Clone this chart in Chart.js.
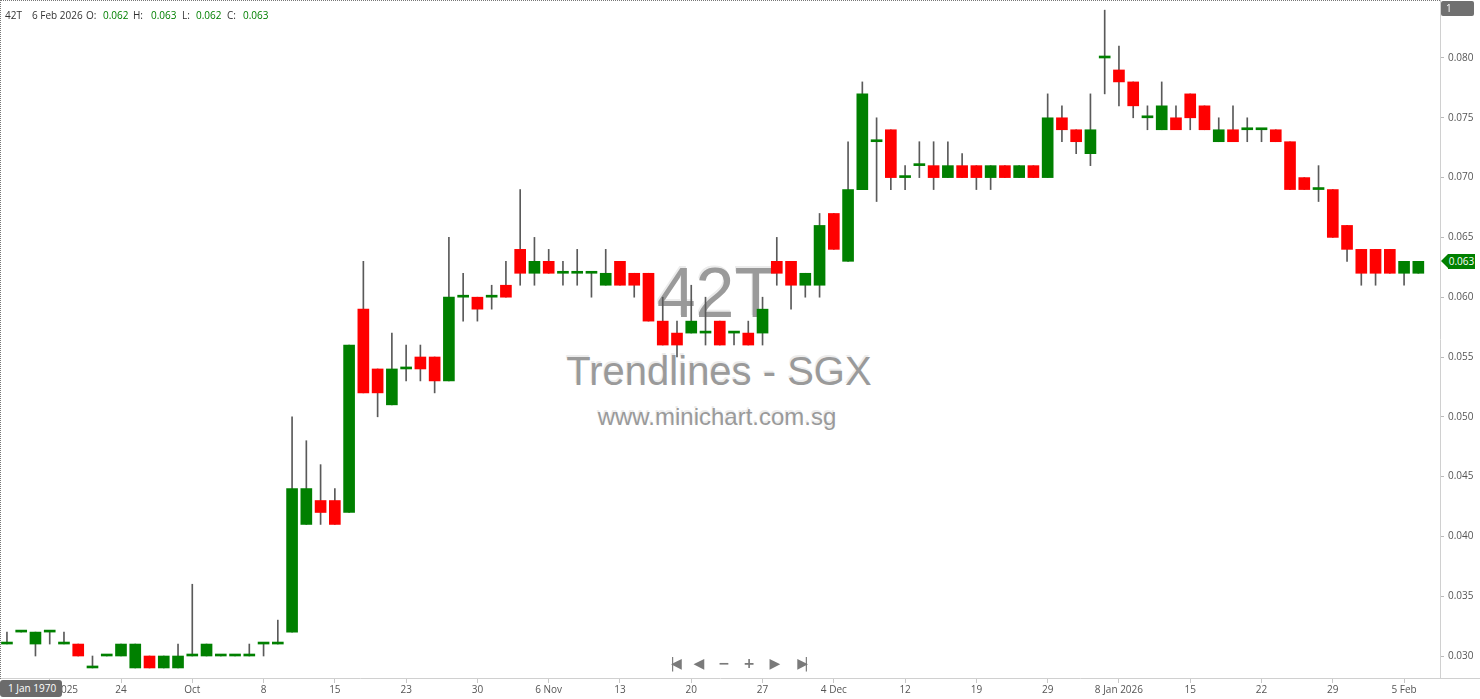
<!DOCTYPE html>
<html><head><meta charset="utf-8">
<script src="https://cdn.jsdelivr.net/npm/chart.js@4.4.1/dist/chart.umd.min.js"></script>
<style>
html,body{margin:0;padding:0;background:#fff;overflow:hidden}
#wrap{position:relative;width:1480px;height:699px;font-family:"Open Sans",sans-serif;font-size:10px;color:#333}
#c{position:absolute;left:0;top:0;z-index:1}
.wm{position:absolute;left:0;width:1434px;text-align:center;color:#9a9a9a;font-family:"Liberation Sans",Arial,sans-serif;white-space:nowrap;z-index:0;text-shadow:-1px -2px 0 #ececec}
.hd{position:absolute;top:9px;line-height:12px;white-space:nowrap;z-index:2}
.g{color:#008000}
.nav{position:absolute;top:654px;width:20px;margin-left:-10px;text-align:center;color:#7a7a7a;font-family:"DejaVu Sans",sans-serif;font-size:14px;line-height:18px;z-index:2;white-space:nowrap}
#frame{position:absolute;left:0;top:0;width:1440px;height:679px;border-top:1px dotted #777;border-left:1px dotted #777;box-sizing:border-box;z-index:2;pointer-events:none}
#datebox{position:absolute;left:0;top:680px;width:62px;height:17px;background:#6b6b6b;border-radius:3px;color:#fff;line-height:17px;padding-left:8px;box-sizing:border-box;z-index:3;white-space:nowrap}
#onebox{position:absolute;left:1441px;top:1px;width:33px;height:15px;background:#707070;border-radius:2px;color:#fff;line-height:15px;padding-left:5px;box-sizing:border-box;z-index:3}
#badge{position:absolute;left:1448px;width:27px;height:15px;background:#008000;color:#fff;line-height:15px;text-align:center;z-index:3}
#arrow{position:absolute;left:1441px;width:0;height:0;border-top:7.5px solid transparent;border-bottom:7.5px solid transparent;border-right:7px solid #008000;z-index:3}
</style>
</head><body>
<div id="wrap">
  <div class="wm" style="top:258px;font-size:70px;line-height:70px;">42T</div>
  <div class="wm" style="top:351px;font-size:40px;line-height:40px;left:2px;">Trendlines - SGX</div>
  <div class="wm" style="top:405px;font-size:24px;line-height:24px;">www.minichart.com.sg</div>
  <canvas id="c" width="1480" height="699"></canvas>
  <div id="frame"></div>
  <div class="hd" id="h_sym" style="left:5px"></div>
  <div class="hd" id="h_date" style="left:32px"></div>
  <div class="hd" style="left:86px">O:</div><div class="hd g" id="h_o" style="left:103px"></div>
  <div class="hd" style="left:133px">H:</div><div class="hd g" id="h_h" style="left:151px"></div>
  <div class="hd" style="left:182px">L:</div><div class="hd g" id="h_l" style="left:196px"></div>
  <div class="hd" style="left:227px">C:</div><div class="hd g" id="h_c" style="left:243px"></div>
  <div class="nav" style="left:674px;letter-spacing:-4px">|◀</div>
  <div class="nav" style="left:699px">◀</div>
  <div class="nav" style="left:724px;font-weight:bold">−</div>
  <div class="nav" style="left:749px;font-weight:bold">+</div>
  <div class="nav" style="left:775px">▶</div>
  <div class="nav" style="left:801px;letter-spacing:-4px">▶|</div>
  <div id="datebox">1 Jan 1970</div>
  <div id="onebox">1</div>
  <div id="arrow"></div><div id="badge"></div>
</div>
<script>
const symbol = "42T";
const lastDate = "6 Feb 2026";
const opens  = [0.031,0.032,0.031,0.032,0.031,0.031,0.029,0.030,0.030,0.029,0.030,0.029,0.029,0.030,0.030,0.030,0.030,0.030,0.031,0.031,
                0.032,0.041,0.043,0.043,0.042,0.059,0.054,0.051,0.054,0.055,0.055,0.053,0.060,0.060,0.060,0.061,0.064,0.062,0.063,0.062,
                0.062,0.062,0.061,0.063,0.062,0.062,0.058,0.057,0.057,0.057,0.058,0.057,0.057,0.057,0.063,0.063,0.061,0.061,0.067,0.063,
                0.069,0.073,0.074,0.070,0.071,0.071,0.070,0.071,0.071,0.070,0.071,0.070,0.071,0.070,0.075,0.074,0.072,0.080,0.079,0.078,
                0.075,0.074,0.075,0.077,0.076,0.073,0.074,0.074,0.074,0.074,0.073,0.070,0.069,0.069,0.066,0.064,0.064,0.064,0.062,0.062];
const highs  = [0.032,0.032,0.032,0.032,0.032,0.031,0.030,0.030,0.031,0.031,0.030,0.030,0.031,0.036,0.031,0.030,0.030,0.031,0.031,0.033,
                0.050,0.048,0.046,0.044,0.056,0.063,0.054,0.057,0.056,0.056,0.055,0.065,0.062,0.060,0.061,0.063,0.069,0.065,0.064,0.063,
                0.064,0.062,0.064,0.063,0.062,0.062,0.060,0.058,0.061,0.060,0.058,0.057,0.058,0.060,0.065,0.063,0.062,0.067,0.067,0.073,
                0.078,0.075,0.074,0.071,0.073,0.073,0.073,0.072,0.071,0.071,0.071,0.071,0.071,0.077,0.076,0.074,0.077,0.084,0.081,0.078,
                0.076,0.078,0.076,0.077,0.076,0.075,0.076,0.075,0.074,0.074,0.073,0.070,0.071,0.069,0.066,0.064,0.064,0.064,0.063,0.063];
const lows   = [0.031,0.032,0.030,0.031,0.031,0.030,0.029,0.030,0.030,0.029,0.029,0.029,0.029,0.030,0.030,0.030,0.030,0.030,0.030,0.031,
                0.032,0.041,0.041,0.041,0.042,0.052,0.050,0.051,0.053,0.053,0.052,0.053,0.058,0.058,0.059,0.060,0.061,0.061,0.062,0.061,
                0.061,0.060,0.061,0.061,0.060,0.058,0.056,0.055,0.057,0.056,0.056,0.056,0.056,0.056,0.061,0.059,0.060,0.060,0.064,0.063,
                0.069,0.068,0.069,0.069,0.070,0.069,0.070,0.070,0.069,0.069,0.070,0.070,0.070,0.070,0.073,0.072,0.071,0.077,0.076,0.075,
                0.074,0.074,0.074,0.074,0.074,0.073,0.073,0.073,0.073,0.073,0.069,0.069,0.068,0.065,0.063,0.061,0.061,0.062,0.061,0.062];
const closes = [0.031,0.032,0.032,0.032,0.031,0.030,0.029,0.030,0.031,0.031,0.029,0.030,0.030,0.030,0.031,0.030,0.030,0.030,0.031,0.031,
                0.044,0.044,0.042,0.041,0.056,0.052,0.052,0.054,0.054,0.054,0.053,0.060,0.060,0.059,0.060,0.060,0.062,0.063,0.062,0.062,
                0.062,0.062,0.062,0.061,0.061,0.058,0.056,0.056,0.058,0.057,0.056,0.057,0.056,0.059,0.062,0.061,0.062,0.066,0.064,0.069,
                0.077,0.073,0.070,0.070,0.071,0.070,0.071,0.070,0.070,0.071,0.070,0.071,0.070,0.075,0.074,0.073,0.074,0.080,0.078,0.076,
                0.075,0.076,0.074,0.075,0.074,0.074,0.073,0.074,0.074,0.073,0.069,0.069,0.069,0.065,0.064,0.062,0.062,0.062,0.063,0.063];
const xTickIndex = [3,8,13,18,23,28,33,38,43,48,53,58,63,68,73,78,83,88,93,98];
const xTickText  = ["17 Sep 2025","24","Oct","8","15","23","30","6 Nov","13","20","27","4 Dec","12","19","29","8 Jan 2026","15","22","29","5 Feb"];
const yTickValues = [0.030,0.035,0.040,0.045,0.050,0.055,0.060,0.065,0.070,0.075,0.080];

const UP = '#008000', DOWN = '#ff0000', WICK = '#5a5a5a';
const idx = opens.map((_, i) => i);
const bodyColors = idx.map(i => closes[i] >= opens[i] ? UP : DOWN);

Chart.defaults.font.family = "'Open Sans', sans-serif";
Chart.defaults.font.size = 10;

const extras = {
  id: 'extras',
  afterDraw(chart) {
    const c = chart.ctx, a = chart.chartArea;
    c.save();
    c.strokeStyle = '#d0d0d0'; c.lineWidth = 1;
    c.beginPath(); c.moveTo(a.right, a.bottom + 0.5); c.lineTo(chart.width, a.bottom + 0.5); c.stroke();
    c.restore();
  }
};

const chart = new Chart(document.getElementById('c'), {
  type: 'bar',
  data: {
    datasets: [
      { label: 'wick', data: idx.map(i => ({ x: i, y: [lows[i], highs[i]] })),
        backgroundColor: WICK, barThickness: 1, order: 2, grouped: false, borderWidth: 0 },
      { label: 'body', data: idx.map(i => ({ x: i, y: [opens[i], closes[i]] })),
        backgroundColor: bodyColors, barThickness: 11, minBarLength: 2, order: 1, grouped: false, borderWidth: 0 }
    ]
  },
  options: {
    responsive: false, animation: false, devicePixelRatio: 1,
    layout: { padding: 0 },
    plugins: { legend: { display: false }, tooltip: { enabled: false } },
    scales: {
      x: {
        type: 'linear', min: -0.4875, max: 100.52, offset: false,
        grid: { display: true, drawOnChartArea: false, drawTicks: true, tickLength: 5, color: '#c8c8c8', offset: false },
        border: { display: true, color: '#d0d0d0' },
        ticks: { autoSkip: false, maxRotation: 0, padding: 1, color: '#555',
                 callback: v => { const k = xTickIndex.indexOf(v); return k >= 0 ? xTickText[k] : ''; } },
        afterBuildTicks: s => { s.ticks = xTickIndex.map(v => ({ value: v })); },
        afterFit: s => { s.height = 21; s.paddingLeft = 0; s.paddingRight = 0; }
      },
      y: {
        position: 'right', min: 0.028161, max: 0.084849,
        grid: { display: true, drawOnChartArea: false, drawTicks: true, tickLength: 4, color: '#bbb' },
        border: { display: true, color: '#d0d0d0' },
        ticks: { padding: 4, color: '#555', callback: v => Number(v).toFixed(3) },
        afterBuildTicks: s => { s.ticks = yTickValues.map(v => ({ value: v })); },
        afterFit: s => { s.width = 40; s.paddingTop = 0; s.paddingBottom = 0; }
      }
    }
  },
  plugins: [extras]
});

const n = closes.length - 1;
document.getElementById('h_sym').textContent = symbol;
document.getElementById('h_date').textContent = lastDate;
document.getElementById('h_o').textContent = opens[n].toFixed(3);
document.getElementById('h_h').textContent = highs[n].toFixed(3);
document.getElementById('h_l').textContent = lows[n].toFixed(3);
document.getElementById('h_c').textContent = closes[n].toFixed(3);
const yPix = chart.scales.y.getPixelForValue(closes[n]);
const badge = document.getElementById('badge');
badge.textContent = closes[n].toFixed(3);
badge.style.top = (yPix - 7.5) + 'px';
document.getElementById('arrow').style.top = (yPix - 7.5) + 'px';
</script>
</body></html>
